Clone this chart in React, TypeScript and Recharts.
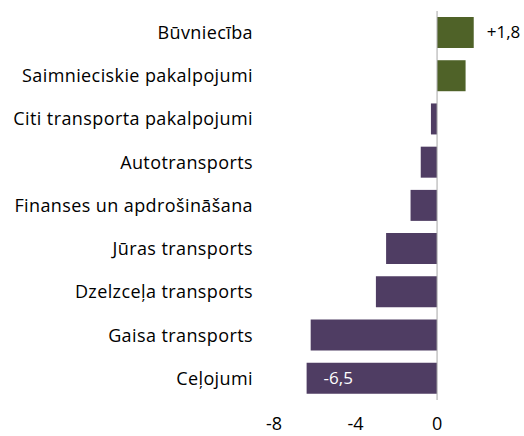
import React from "react";
import {
  BarChart,
  Bar,
  Cell,
  XAxis,
  YAxis,
  ReferenceLine,
  LabelList,
} from "recharts";

// Sector names, top to bottom
const categories = [
  "Būvniecība",
  "Saimnieciskie pakalpojumi",
  "Citi transporta pakalpojumi",
  "Autotransports",
  "Finanses un apdrošināšana",
  "Jūras transports",
  "Dzelzceļa transports",
  "Gaisa transports",
  "Ceļojumi",
];

// Change values
const values = [1.8, 1.4, -0.3, -0.8, -1.3, -2.5, -3.0, -6.2, -6.4];

// Only two bars carry a value label
const valueLabels = ["+1,8", "", "", "", "", "", "", "", "-6,5"];

const xTicks = [-8, -4, 0];

const GREEN = "#4f6228";
const PURPLE = "#4f3d63";
const FONT = "'Open Sans', sans-serif";

const data = categories.map((name, i) => ({
  name,
  value: values[i],
  label: valueLabels[i],
}));

const renderValueLabel = (props: any) => {
  const { x, y, width, height, value } = props;
  if (!value) return null;
  const cy = y + height / 2;
  if (value.startsWith("+")) {
    return (
      <text x={x + width + 13} y={cy} dy="0.35em" fill="#000" fontSize={17} fontFamily={FONT}>
        {value}
      </text>
    );
  }
  // negative bar: x is the zero end, width negative
  const left = x + width;
  return (
    <text x={left + 17} y={cy} dy="0.35em" fill="#fff" fontSize={17} fontFamily={FONT}>
      {value}
    </text>
  );
};

export default function App() {
  return (
    <div style={{ position: "absolute", left: 0, top: 0, background: "#fff" }}>
      <BarChart
        width={524}
        height={436}
        data={data}
        layout="vertical"
        margin={{ top: 11, right: 36, bottom: 0, left: 0 }}
        barSize={31}
      >
        <XAxis
          type="number"
          domain={[-8, 2.5]}
          ticks={xTicks}
          axisLine={false}
          tickLine={false}
          tickSize={0}
          tickMargin={17}
          height={36}
          tick={{ fill: "#000", fontSize: 18, fontFamily: FONT }}
        />
        <YAxis
          type="category"
          dataKey="name"
          width={274}
          axisLine={false}
          tickLine={false}
          tickSize={0}
          tickMargin={21}
          interval={0}
          tick={{ fill: "#000", fontSize: 18, fontFamily: FONT, letterSpacing: 0.4 }}
        />
        <Bar dataKey="value" isAnimationActive={false}>
          {data.map((d, i) => (
            <Cell key={`cell-${i}`} fill={d.value >= 0 ? GREEN : PURPLE} />
          ))}
          <LabelList dataKey="label" content={renderValueLabel} />
        </Bar>
        <ReferenceLine x={0} stroke="#a6a6a6" strokeWidth={1} />
      </BarChart>
    </div>
  );
}
